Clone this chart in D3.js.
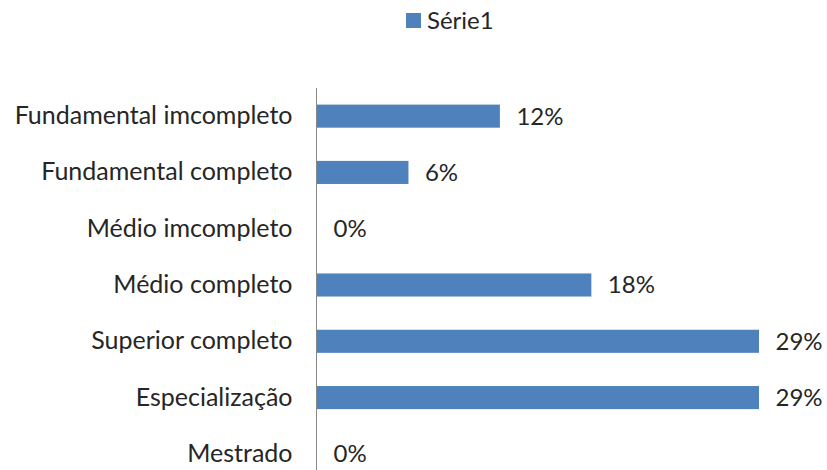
<!DOCTYPE html>
<html>
<head>
<meta charset="utf-8">
<script src="https://cdn.jsdelivr.net/npm/d3@7"></script>
<style>
  html, body { margin: 0; padding: 0; background: #fff; }
  svg { display: block; font-family: Lato, "Open Sans", sans-serif; }
</style>
</head>
<body>
<svg id="chart" width="827" height="470"></svg>
<script>
// Education level categories, top to bottom
const categories = [
  "Fundamental imcompleto",
  "Fundamental completo",
  "Médio imcompleto",
  "Médio completo",
  "Superior completo",
  "Especialização",
  "Mestrado"
];
// Share of respondents (%)
const values = [12, 6, 0, 18, 29, 29, 0];
const seriesName = "Série1";

const svg = d3.select("#chart");
const barColor = "#4F81BD";
const textColor = "#262626";

const x = d3.scaleLinear().domain([0, 29]).range([316.5, 758.5]);
const y = d3.scaleBand().domain(categories).range([88, 482]).paddingInner(0.59).paddingOuter(0.295);

// Category axis: only the vertical line and labels
const yAxis = d3.axisLeft(y).tickSize(0).tickPadding(24);
const gy = svg.append("g").attr("transform", `translate(${x(0)},0)`).call(yAxis);
gy.select(".domain").attr("stroke", "#888").attr("stroke-width", 1).attr("d", `M0,88V482`);
gy.selectAll("text")
  .attr("font-size", 25)
  .attr("fill", textColor)
  .attr("font-family", "Lato, 'Open Sans', sans-serif");

const rows = categories.map((c, i) => ({ c, v: values[i] }));

svg.append("g").selectAll("rect").data(rows).join("rect")
  .attr("x", x(0) + 0.5)
  .attr("y", d => y(d.c))
  .attr("width", d => Math.max(0, x(d.v) - x(0)))
  .attr("height", y.bandwidth())
  .attr("fill", barColor);

svg.append("g").selectAll("text").data(rows).join("text")
  .attr("x", d => x(d.v) + 17)
  .attr("y", d => y(d.c) + y.bandwidth() / 2)
  .attr("dy", "0.35em")
  .attr("font-size", 24)
  .attr("fill", textColor)
  .text(d => d.v + "%");

// Legend
const lg = svg.append("g").attr("transform", "translate(406,13)");
lg.append("rect").attr("width", 15).attr("height", 15).attr("fill", barColor);
lg.append("text").attr("x", 21).attr("y", 7.5).attr("dy", "0.35em")
  .attr("font-size", 24).attr("fill", textColor).text(seriesName);
</script>
</body>
</html>
